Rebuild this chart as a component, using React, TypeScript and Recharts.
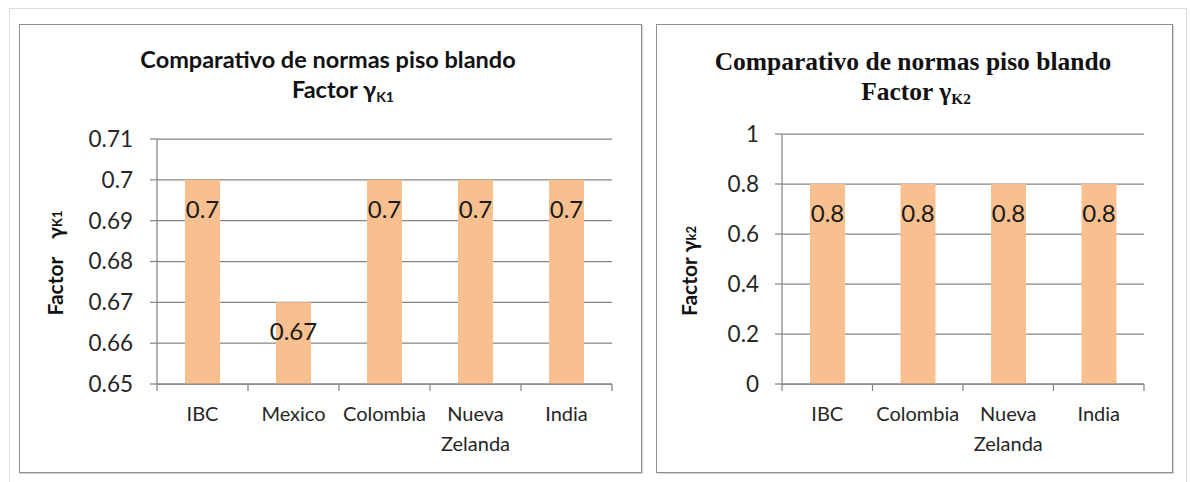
import { BarChart, Bar, XAxis, YAxis, CartesianGrid, LabelList, Label } from 'recharts';

// Factor γK1 by code
const K1_CATEGORIES = ['IBC', 'Mexico', 'Colombia', 'Nueva Zelanda', 'India'];
const K1_VALUES = [0.7, 0.67, 0.7, 0.7, 0.7];
const K1_TICKS = [0.65, 0.66, 0.67, 0.68, 0.69, 0.7, 0.71];

// Factor γK2 by code
const K2_CATEGORIES = ['IBC', 'Colombia', 'Nueva Zelanda', 'India'];
const K2_VALUES = [0.8, 0.8, 0.8, 0.8];
const K2_TICKS = [0, 0.2, 0.4, 0.6, 0.8, 1];

const TITLE = 'Comparativo de normas piso blando';

const BAR_COLOR = '#F9C08F';
const LINE_COLOR = '#868686';
const TEXT_COLOR = '#262626';
const SANS = 'Lato, "Open Sans", sans-serif';
const SERIF = '"Liberation Serif", "Times New Roman", serif';

const buildRows = (cats: string[], vals: number[]) =>
  cats.map((name, i) => ({ name, value: vals[i] }));

// category labels sit under the band, with tick marks on the band edges
const CategoryTick = (props: any) => {
  const { x, y, payload, index, count } = props;
  const half = payload?.offset ?? 45;
  const lines = String(payload.value).split(' ');
  return (
    <g>
      <line x1={x - half} y1={y} x2={x - half} y2={y + 7} stroke={LINE_COLOR} strokeWidth={1.25} />
      {index === count - 1 && (
        <line x1={x + half} y1={y} x2={x + half} y2={y + 7} stroke={LINE_COLOR} strokeWidth={1.25} />
      )}
      {lines.map((ln, i) => (
        <text
          key={i}
          x={x}
          y={y + 37 + i * 30}
          textAnchor="middle"
          fontSize={20}
          fontFamily={SANS}
          fill={TEXT_COLOR}
        >
          {ln}
        </text>
      ))}
    </g>
  );
};

const ValueLabel = (props: any) => {
  const { x, y, width, value } = props;
  return (
    <text
      x={x + width / 2}
      y={y + 38}
      textAnchor="middle"
      fontSize={24}
      fontFamily={SANS}
      fill="#1a1a1a"
    >
      {value}
    </text>
  );
};

type PanelProps = {
  left: number;
  width: number;
  rows: { name: string; value: number }[];
  ticks: number[];
  plotTop: number;
  plotHeight: number;
  plotRight: number;
  axisWidth: number;
  tickGap: number;
  serifTitle: boolean;
  titleX: number;
  titleY: number;
  subtitleX: number;
  sub: string;
  axisLabelX: number;
  axisLabelY: number;
  axisSub: string;
  axisGap: number;
};

const PANEL_TOP = 24;
const PANEL_HEIGHT = 449;

function Panel(p: PanelProps) {
  const titleFont = p.serifTitle ? SERIF : SANS;
  const titleSize = p.serifTitle ? 25.5 : 23.5;
  return (
    <>
      <div
        style={{
          position: 'absolute',
          left: p.left,
          top: PANEL_TOP,
          width: p.width,
          height: PANEL_HEIGHT,
          border: '1.5px solid #8f8f8f',
          boxSizing: 'border-box',
          boxShadow: '1px 1px 1px rgba(0,0,0,0.15)',
        }}
      />
      <svg
        width={p.width}
        height={PANEL_HEIGHT}
        style={{ position: 'absolute', left: p.left, top: PANEL_TOP }}
      >
        <text
          x={p.titleX}
          y={p.titleY}
          textAnchor="middle"
          fontSize={titleSize}
          fontWeight="bold"
          fontFamily={titleFont}
          fill="#111"
        >
          {TITLE}
        </text>
        <text
          x={p.subtitleX}
          y={p.titleY + 29.5}
          textAnchor="middle"
          fontSize={titleSize}
          fontWeight="bold"
          fontFamily={titleFont}
          fill="#111"
        >
          Factor γ
          <tspan fontSize={titleSize * 0.6} dy={4}>
            {p.sub}
          </tspan>
        </text>
      </svg>
      <div style={{ position: 'absolute', left: p.left, top: PANEL_TOP }}>
        <BarChart
          width={p.width}
          height={PANEL_HEIGHT}
          data={p.rows}
          margin={{ top: p.plotTop, right: p.plotRight, bottom: 0, left: 0 }}
        >
          <CartesianGrid vertical={false} stroke={LINE_COLOR} strokeWidth={1.25} />
          <XAxis
            dataKey="name"
            height={PANEL_HEIGHT - p.plotTop - p.plotHeight}
            axisLine={{ stroke: LINE_COLOR, strokeWidth: 1.25 }}
            tickLine={false}
            tickSize={0}
            tickMargin={0}
            interval={0}
            tick={(tp: any) => <CategoryTick {...tp} count={p.rows.length} />}
          />
          <YAxis
            type="number"
            domain={[p.ticks[0], p.ticks[p.ticks.length - 1]]}
            ticks={p.ticks}
            interval={0}
            width={p.axisWidth}
            axisLine={{ stroke: LINE_COLOR, strokeWidth: 1.25 }}
            tickLine={{ stroke: LINE_COLOR, strokeWidth: 1.25 }}
            tickSize={7}
            tickMargin={p.tickGap}
            tick={{ fontSize: 22.5, fontFamily: SANS, fill: TEXT_COLOR }}
          >
            <Label
              content={() => (
                <text
                  x={p.axisLabelX}
                  y={p.axisLabelY}
                  transform={`rotate(-90 ${p.axisLabelX} ${p.axisLabelY})`}
                  textAnchor="middle"
                  dominantBaseline="central"
                  fontSize={21}
                  fontWeight="bold"
                  fontFamily={SANS}
                  fill="#111"
                >
                  Factor
                  <tspan dx={p.axisGap}>γ</tspan>
                  <tspan fontSize={13} dy={3}>
                    {p.axisSub}
                  </tspan>
                </text>
              )}
            />
          </YAxis>
          <Bar dataKey="value" fill={BAR_COLOR} barSize={35} isAnimationActive={false}>
            <LabelList dataKey="value" content={ValueLabel} />
          </Bar>
        </BarChart>
      </div>
    </>
  );
}

export default function App() {
  return (
    <div
      style={{
        position: 'absolute',
        left: 0,
        top: 0,
        width: 1190,
        height: 482,
        background: '#fff',
        overflow: 'hidden',
      }}
    >
      <div
        style={{
          position: 'absolute',
          left: 9,
          top: 8,
          width: 1178,
          height: 500,
          border: '1.5px solid #dcdcdc',
          boxSizing: 'border-box',
        }}
      />
      <Panel
        left={19}
        width={623}
        rows={buildRows(K1_CATEGORIES, K1_VALUES)}
        ticks={K1_TICKS}
        plotTop={115}
        plotHeight={245}
        plotRight={30}
        axisWidth={138}
        tickGap={17}
        serifTitle={false}
        titleX={309}
        titleY={44}
        subtitleX={324}
        sub="K1"
        axisLabelX={35}
        axisLabelY={239}
        axisSub="K1"
        axisGap={18}
      />
      <Panel
        left={656}
        width={517}
        rows={buildRows(K2_CATEGORIES, K2_VALUES)}
        ticks={K2_TICKS}
        plotTop={110}
        plotHeight={250}
        plotRight={29}
        axisWidth={126}
        tickGap={16}
        serifTitle={true}
        titleX={257}
        titleY={46}
        subtitleX={260}
        sub="K2"
        axisLabelX={32}
        axisLabelY={247}
        axisSub="k2"
        axisGap={5}
      />
    </div>
  );
}
